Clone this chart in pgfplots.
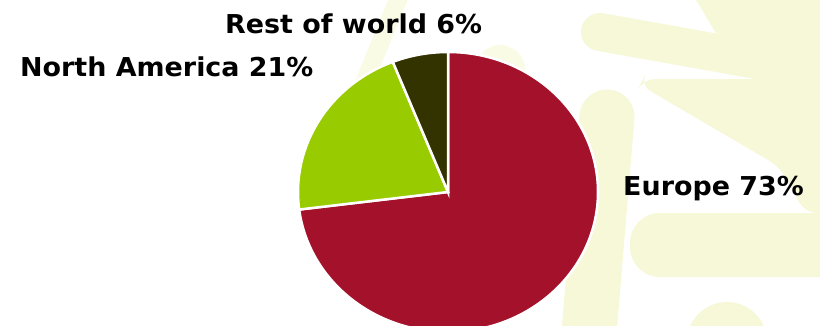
\documentclass[border=0pt]{standalone}
\usepackage{pgfplots}
\pgfplotsset{compat=1.18}
\usepackage{pgfplotstable}
\usepackage{fontspec}
\setmainfont{DejaVu Sans}
\definecolor{eucol}{RGB}{163,17,42}
\definecolor{nacol}{RGB}{153,204,0}
\definecolor{rwcol}{RGB}{51,51,0}
\definecolor{bgy}{RGB}{247,248,215}
\definecolor{bgl}{RGB}{250,251,228}

\pgfplotstableread[col sep=comma]{
region,value
Europe,73
North America,21
Rest of world,6
}\piedata

\pgfplotstablegetelem{0}{value}\of\piedata \let\vA\pgfplotsretval
\pgfplotstablegetelem{1}{value}\of\piedata \let\vB\pgfplotsretval
\pgfplotstablegetelem{2}{value}\of\piedata \let\vC\pgfplotsretval
\pgfmathsetmacro\aA{90-3.6*\vA}
\pgfmathsetmacro\aB{\aA-3.6*\vB}
\pgfmathsetmacro\aC{\aB-3.6*\vC}

\begin{document}
\begin{tikzpicture}[x=1pt,y=1pt]
\path[use as bounding box] (0,0) rectangle (820,325);
\clip (0,0) rectangle (820,325);
\fill[white] (0,0) rectangle (820,325);
% decorative background
\begin{scope}[bgy, line cap=round]
\fill[rounded corners=12] (690,335) -- (830,335) -- (830,112) -- (805,112)
  -- (780,158) -- (640,240) -- (643,246) -- (775,246) -- (790,260) -- (720,285) -- cycle;
\draw[line width=38] (600,293) -- (768,263);
\draw[line width=55] (607,208) -- (588,-20);
\fill[rounded corners=30] (630,112) rectangle (850,48);
\fill (727,-17) circle[radius=40];
\draw[bgl, line width=18] (357,225) -- (402,335);
\fill[bgl] (500,255) circle[radius=25];
\end{scope}
\begin{axis}[at={(0,0)}, anchor=south west, x=1pt, y=1pt,
  xmin=0, xmax=820, ymin=0, ymax=325, hide axis, clip=false,
  scale only axis]
\fill[eucol, draw=white, line width=2.5pt, line join=miter]
  (axis cs:448,133) -- ++(90:150pt and 140pt)
  arc[start angle=90, end angle=\aA, x radius=150pt, y radius=140pt] -- cycle;
\fill[nacol, draw=white, line width=2.5pt]
  (axis cs:448,133) -- ++(\aA:150pt and 140pt)
  arc[start angle=\aA, end angle=\aB, x radius=150pt, y radius=140pt] -- cycle;
\fill[rwcol, draw=white, line width=2.5pt]
  (axis cs:448,133) -- ++(\aB:150pt and 140pt)
  arc[start angle=\aB, end angle=\aC, x radius=150pt, y radius=140pt] -- cycle;
\node[anchor=base west, inner sep=0pt, xscale=1.035, font=\fontsize{26}{30}\selectfont\bfseries]
  at (axis cs:623,129.3) {Europe \vA\%};
\node[anchor=base west, inner sep=0pt, xscale=1.035, font=\fontsize{26}{30}\selectfont\bfseries]
  at (axis cs:20,249) {North America \vB\%};
\node[anchor=base west, inner sep=0pt, xscale=1.035, font=\fontsize{26}{30}\selectfont\bfseries]
  at (axis cs:225,292) {Rest of world \vC\%};
\end{axis}
\end{tikzpicture}
\end{document}
